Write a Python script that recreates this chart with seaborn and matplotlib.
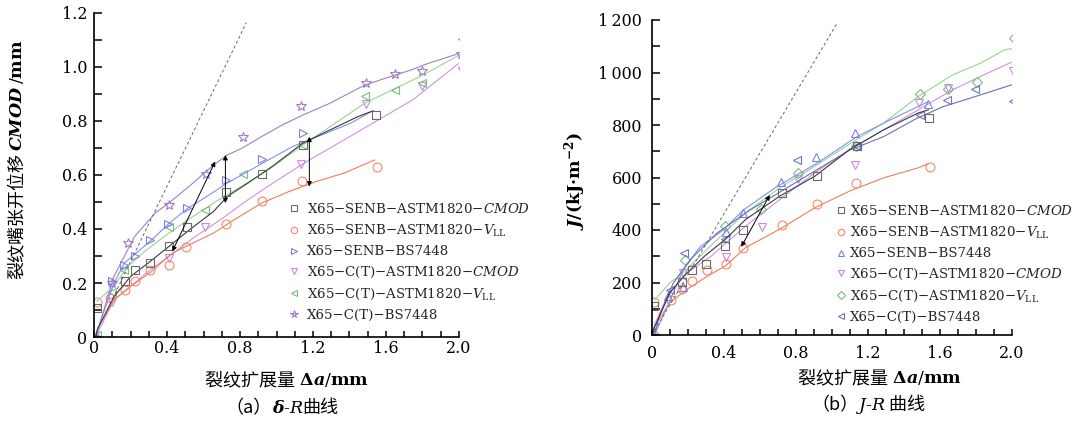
import matplotlib
matplotlib.use("Agg")
import matplotlib.pyplot as plt
import matplotlib.ticker as mticker
import seaborn as sns
from matplotlib.lines import Line2D
from matplotlib.offsetbox import TextArea, HPacker, AnnotationBbox

# ---------------- data: (a) delta-R ----------------
a_senb_cmod_lx = [0.01, 0.02, 0.11, 0.2, 0.297, 0.41, 0.523, 0.655, 0.73, 0.843, 0.975, 1.144, 1.294, 1.445, 1.53]
a_senb_cmod_ly = [0.0, 0.03, 0.15, 0.224, 0.274, 0.335, 0.397, 0.465, 0.52, 0.57, 0.631, 0.718, 0.767, 0.816, 0.838]
a_senb_cmod_mx = [0.015, 0.17, 0.226, 0.307, 0.41, 0.508, 0.724, 0.918, 1.144, 1.543]
a_senb_cmod_my = [0.107, 0.206, 0.247, 0.274, 0.338, 0.406, 0.537, 0.604, 0.711, 0.822]

a_senb_vll_lx = [0.01, 0.02, 0.11, 0.2, 0.316, 0.429, 0.542, 0.655, 0.768, 0.918, 1.069, 1.219, 1.37, 1.539]
a_senb_vll_ly = [0.0, 0.033, 0.138, 0.187, 0.243, 0.311, 0.348, 0.385, 0.434, 0.496, 0.539, 0.576, 0.607, 0.656]
a_senb_vll_mx = [0.015, 0.09, 0.17, 0.226, 0.307, 0.41, 0.504, 0.724, 0.918, 1.138, 1.548]
a_senb_vll_my = [0.128, 0.144, 0.173, 0.206, 0.247, 0.268, 0.335, 0.419, 0.502, 0.576, 0.631]

a_senb_bs_lx = [0.01, 0.02, 0.11, 0.166, 0.23, 0.316, 0.41, 0.514, 0.617, 0.73, 0.843, 0.956, 1.087, 1.18, 1.294, 1.407, 1.52]
a_senb_bs_ly = [0.0, 0.03, 0.2, 0.274, 0.31, 0.36, 0.42, 0.477, 0.52, 0.57, 0.613, 0.656, 0.705, 0.73, 0.761, 0.792, 0.835]
a_senb_bs_mx = [0.1, 0.166, 0.222, 0.307, 0.406, 0.508, 0.724, 0.918, 1.144]
a_senb_bs_my = [0.206, 0.268, 0.301, 0.358, 0.419, 0.477, 0.582, 0.658, 0.757]

a_ct_cmod_lx = [0.01, 0.02, 0.11, 0.2, 0.297, 0.41, 0.542, 0.692, 0.843, 0.993, 1.181, 1.37, 1.558, 1.746, 2.0]
a_ct_cmod_ly = [0.0, 0.015, 0.138, 0.187, 0.243, 0.298, 0.366, 0.434, 0.508, 0.576, 0.656, 0.73, 0.804, 0.878, 1.014]
a_ct_cmod_mx = [0.0, 0.1, 0.41, 0.608, 1.134, 1.49, 1.8, 2.015]
a_ct_cmod_my = [0.0, 0.128, 0.292, 0.406, 0.64, 0.862, 0.93, 0.986]

a_ct_vll_lx = [0.015, 0.109, 0.184, 0.278, 0.41, 0.542, 0.655, 0.805, 0.956, 1.144, 1.294, 1.483, 1.652, 1.802, 2.0]
a_ct_vll_ly = [0.132, 0.187, 0.261, 0.317, 0.385, 0.446, 0.496, 0.557, 0.619, 0.711, 0.779, 0.866, 0.921, 0.97, 1.044]
a_ct_vll_mx = [0.015, 0.1, 0.166, 0.41, 0.608, 0.815, 1.144, 1.486, 1.648, 1.8, 2.015]
a_ct_vll_my = [0.009, 0.166, 0.25, 0.406, 0.471, 0.604, 0.711, 0.894, 0.915, 0.942, 1.102]

a_ct_bs_lx = [0.01, 0.109, 0.222, 0.335, 0.41, 0.542, 0.655, 0.73, 0.805, 0.918, 1.031, 1.144, 1.294, 1.483, 1.595, 1.746, 1.821, 2.0]
a_ct_bs_ly = [0.0, 0.224, 0.372, 0.459, 0.496, 0.57, 0.637, 0.674, 0.697, 0.742, 0.785, 0.822, 0.866, 0.933, 0.958, 0.991, 1.011, 1.05]
a_ct_bs_mx = [0.0, 0.1, 0.184, 0.41, 0.613, 0.815, 1.134, 1.49, 1.648, 1.8, 2.01]
a_ct_bs_my = [0.0, 0.2, 0.348, 0.49, 0.604, 0.74, 0.856, 0.942, 0.974, 0.987, 1.048]

a_blunt_x = [0.0, 0.835]
a_blunt_y = [0.0, 1.165]

# ---------------- data: (b) J-R ----------------
b_senb_cmod_lx = [0.005, 0.01, 0.1, 0.178, 0.293, 0.408, 0.52, 0.71, 0.905, 1.097, 1.288, 1.48, 1.537]
b_senb_cmod_ly = [0, 23, 162, 225, 301, 365, 440, 529, 605, 706, 782, 846, 858]
b_senb_cmod_mx = [0.011, 0.165, 0.222, 0.302, 0.408, 0.507, 0.72, 0.915, 1.139, 1.541]
b_senb_cmod_my = [109, 203, 247, 272, 339, 400, 542, 605, 719, 827]

b_senb_vll_lx = [0.005, 0.01, 0.1, 0.197, 0.31, 0.408, 0.52, 0.71, 0.905, 1.097, 1.288, 1.48, 1.537]
b_senb_vll_ly = [0, 29, 124, 175, 225, 263, 333, 403, 485, 548, 599, 637, 653]
b_senb_vll_mx = [0.011, 0.107, 0.165, 0.222, 0.308, 0.413, 0.503, 0.72, 0.915, 1.135, 1.543]
b_senb_vll_my = [127, 133, 175, 206, 248, 270, 333, 419, 500, 580, 639]

b_senb_bs_lx = [0.01, 0.026, 0.1, 0.174, 0.267, 0.396, 0.507, 0.693, 0.915, 1.137, 1.322, 1.535]
b_senb_bs_ly = [0, 19, 133, 248, 336, 400, 476, 565, 654, 755, 819, 889]
b_senb_bs_mx = [0.01, 0.09, 0.172, 0.409, 0.507, 0.715, 0.909, 1.128, 1.535]
b_senb_bs_my = [5, 150, 184, 393, 464, 584, 679, 768, 880]

b_ct_cmod_lx = [0.01, 0.015, 0.1, 0.197, 0.33, 0.52, 0.71, 0.905, 1.097, 1.288, 1.48, 1.67, 1.862, 2.006]
b_ct_cmod_ly = [0, 42, 162, 238, 301, 415, 516, 618, 706, 782, 858, 934, 997, 1042]
b_ct_cmod_mx = [0.172, 0.411, 0.609, 0.813, 1.128, 1.485, 1.646, 2.004]
b_ct_cmod_my = [236, 298, 410, 593, 648, 885, 942, 1007]

b_ct_vll_lx = [0.015, 0.1, 0.161, 0.311, 0.52, 0.71, 0.905, 1.135, 1.288, 1.48, 1.67, 1.824, 1.958, 2.006]
b_ct_vll_ly = [133, 200, 229, 330, 466, 561, 643, 744, 808, 909, 991, 1035, 1086, 1092]
b_ct_vll_mx = [0.01, 0.184, 0.408, 0.603, 0.813, 1.135, 1.489, 1.646, 1.805, 2.012]
b_ct_vll_my = [5, 286, 415, 481, 618, 720, 919, 937, 962, 1130]

b_ct_bs_lx = [0.017, 0.044, 0.118, 0.211, 0.359, 0.544, 0.729, 0.915, 1.1, 1.285, 1.47, 1.618, 1.822, 2.007]
b_ct_bs_ly = [8, 83, 197, 286, 387, 476, 552, 629, 705, 755, 825, 870, 914, 955]
b_ct_bs_mx = [0.098, 0.178, 0.408, 0.806, 1.135, 1.489, 1.638, 1.795, 2.006]
b_ct_bs_my = [172, 311, 365, 665, 719, 839, 894, 937, 890]

b_blunt_x = [0.0, 1.03]
b_blunt_y = [0, 1190]

# arrows (start, end) in data units
a_arrows = [((0.72, 0.496), (0.72, 0.674)), ((1.18, 0.557), (1.18, 0.742)), ((0.429, 0.317), (0.664, 0.65))]
b_arrows = [((0.496, 336), (0.654, 533))]

legend_a = ["X65−SENB−ASTM1820−$\\mathit{CMOD}$", "X65−SENB−ASTM1820−$\\mathit{V}_{\\mathrm{LL}}$",
            "X65−SENB−BS7448", "X65−C(T)−ASTM1820−$\\mathit{CMOD}$",
            "X65−C(T)−ASTM1820−$\\mathit{V}_{\\mathrm{LL}}$", "X65−C(T)−BS7448"]
legend_b = legend_a

xticks = [0, 0.4, 0.8, 1.2, 1.6, 2.0]
xticklabels = ["0", "0.4", "0.8", "1.2", "1.6", "2.0"]
a_yticks = [0, 0.2, 0.4, 0.6, 0.8, 1.0, 1.2]
a_yticklabels = ["0", "0.2", "0.4", "0.6", "0.8", "1.0", "1.2"]
b_yticks = [0, 200, 400, 600, 800, 1000, 1200]
b_yticklabels = ["0", "200", "400", "600", "800", "1\u2009000", "1\u2009200"]

# ---------------- style ----------------
sns.set_style("ticks")
plt.rcParams.update({
    "font.family": ["DejaVu Serif"],
    "mathtext.fontset": "custom",
    "mathtext.rm": "DejaVu Serif",
    "mathtext.it": "DejaVu Serif:italic",
    "mathtext.bf": "DejaVu Serif:bold",
    "mathtext.bfit": "DejaVu Serif:italic:bold",
    "axes.linewidth": 1.2,
    "axes.edgecolor": "black",
})

W, H = 1079, 422
fig = plt.figure(figsize=(W / 100, H / 100), dpi=100)
fig.patch.set_facecolor("white")
axA = fig.add_axes([94 / W, 85 / H, 365 / W, 324 / H])
axB = fig.add_axes([652 / W, 87 / H, 360 / W, 315 / H])

C_GRAY_L, C_GRAY_M = "#3a3a3a", "#6a6a6a"
C_OR_L, C_OR_M = "#f47a58", "#f58a6c"
C_BL_L, C_BL_M = "#8a8eec", "#7c80e6"
C_VI_L, C_VI_M = "#cf92e2", "#c989dd"
C_GR_L, C_GR_M = "#96d496", "#7dba7d"
C_PU_L, C_PU_M = "#a27fc6", "#a27bc8"
C_BP_L, C_BP_M = "#6c6cbe", "#7272c4"

LW = 0.8
MEW = 0.8


def series(ax, lx, ly, mx, my, lc, mc, marker, ms):
    sns.lineplot(x=lx, y=ly, ax=ax, color=lc, lw=LW, sort=False, estimator=None)
    sns.lineplot(x=mx, y=my, ax=ax, color=mc, linestyle="none", marker=marker, markersize=ms,
                 markerfacecolor="none", markeredgecolor=mc, markeredgewidth=MEW,
                 sort=False, estimator=None)


# (a)
series(axA, a_ct_cmod_lx, a_ct_cmod_ly, a_ct_cmod_mx, a_ct_cmod_my, C_VI_L, C_VI_M, "v", 6.3)
series(axA, a_senb_vll_lx, a_senb_vll_ly, a_senb_vll_mx, a_senb_vll_my, C_OR_L, C_OR_M, "o", 6.4)
series(axA, a_ct_vll_lx, a_ct_vll_ly, a_ct_vll_mx, a_ct_vll_my, C_GR_L, C_GR_M, "<", 6.3)
series(axA, a_senb_bs_lx, a_senb_bs_ly, a_senb_bs_mx, a_senb_bs_my, C_BL_L, C_BL_M, ">", 6.3)
series(axA, a_ct_bs_lx, a_ct_bs_ly, a_ct_bs_mx, a_ct_bs_my, C_PU_L, C_PU_M, "*", 7.5)
series(axA, a_senb_cmod_lx, a_senb_cmod_ly, a_senb_cmod_mx, a_senb_cmod_my, C_GRAY_L, C_GRAY_M, "s", 5.6)
sns.lineplot(x=a_blunt_x, y=a_blunt_y, ax=axA, color="#666666", lw=0.7, dashes=(3, 2.5), sort=False, estimator=None)

# (b)
series(axB, b_ct_cmod_lx, b_ct_cmod_ly, b_ct_cmod_mx, b_ct_cmod_my, C_VI_L, C_VI_M, "v", 6.3)
series(axB, b_senb_vll_lx, b_senb_vll_ly, b_senb_vll_mx, b_senb_vll_my, C_OR_L, C_OR_M, "o", 6.4)
series(axB, b_ct_vll_lx, b_ct_vll_ly, b_ct_vll_mx, b_ct_vll_my, C_GR_L, C_GR_M, "D", 4.8)
series(axB, b_senb_bs_lx, b_senb_bs_ly, b_senb_bs_mx, b_senb_bs_my, C_BL_L, C_BL_M, "^", 6.3)
series(axB, b_ct_bs_lx, b_ct_bs_ly, b_ct_bs_mx, b_ct_bs_my, C_BP_L, C_BP_M, "<", 6.3)
series(axB, b_senb_cmod_lx, b_senb_cmod_ly, b_senb_cmod_mx, b_senb_cmod_my, C_GRAY_L, C_GRAY_M, "s", 5.6)
sns.lineplot(x=b_blunt_x, y=b_blunt_y, ax=axB, color="#666666", lw=0.7, dashes=(3, 2.5), sort=False, estimator=None)

for ax, arrows in ((axA, a_arrows), (axB, b_arrows)):
    for (p0, p1) in arrows:
        ax.annotate("", xy=p1, xytext=p0,
                    arrowprops=dict(arrowstyle="<|-|>", lw=0.7, color="black",
                                    mutation_scale=7, shrinkA=0, shrinkB=0))

# axes formatting
for ax, yt, ytl, ylim, yminor, xpad, ypad in (
        (axA, a_yticks, a_yticklabels, (0, 1.2), 0.1, 2.5, 5),
        (axB, b_yticks, b_yticklabels, (0, 1200), 100, 7, 7)):
    ax.set_xlim(0, 2.0)
    ax.set_ylim(*ylim)
    ax.xaxis.set_major_locator(mticker.FixedLocator(xticks))
    ax.xaxis.set_major_formatter(mticker.FixedFormatter(xticklabels))
    ax.xaxis.set_minor_locator(mticker.MultipleLocator(0.1))
    ax.yaxis.set_major_locator(mticker.FixedLocator(yt))
    ax.yaxis.set_major_formatter(mticker.FixedFormatter(ytl))
    ax.yaxis.set_minor_locator(mticker.MultipleLocator(yminor))
    sns.despine(ax=ax)
    ax.tick_params(axis="both", which="both", direction="in", width=1.1, colors="black",
                   labelsize=11.5)
    ax.tick_params(axis="x", which="both", length=4, pad=xpad)
    ax.tick_params(axis="y", which="both", length=5.5, pad=ypad)
    ax.set_xlabel("")
    ax.set_ylabel("")
    ax.set_facecolor("white")

# legends
markers_a = ["s", "o", ">", "v", "<", "*"]
markers_b = ["s", "o", "^", "v", "D", "<"]
cols_a = [C_GRAY_M, C_OR_M, C_BL_M, C_VI_M, C_GR_M, C_PU_M]
cols_b = [C_GRAY_M, C_OR_M, C_BL_M, C_VI_M, C_GR_M, C_BP_M]


def make_legend(ax, markers, cols, labels, x0, ytop, hl, htp):
    hs = []
    for m, c in zip(markers, cols):
        ms = 4.6 if m != "D" else 3.6
        if m == "*":
            ms = 5.5
        hs.append(Line2D([], [], ls="none", marker=m, ms=ms, mfc="none", mec=c, mew=0.8))
    ax.legend(hs, labels, loc="upper left", bbox_to_anchor=(x0 / W, 1 - ytop / H),
              bbox_transform=fig.transFigure, frameon=False, borderpad=0, borderaxespad=0,
              handlelength=hl, handletextpad=htp, labelspacing=0.5,
              prop={"family": "DejaVu Serif", "size": 9.6})


make_legend(axA, markers_a, cols_a, legend_a, 287, 202, 1.0, 0.52)
make_legend(axB, markers_b, cols_b, legend_b, 836, 204, 0.7, 0.32)

# text labels
CJK = {"family": "Noto Sans CJK SC", "size": 13, "color": "black"}
SER = {"family": "DejaVu Serif", "size": 12.5, "color": "black"}


def hlabel(pieces, xc, yc):
    areas = [TextArea(s, textprops=p) for s, p in pieces]
    box = HPacker(children=areas, align="baseline", pad=0, sep=0)
    ab = AnnotationBbox(box, (xc, H - yc), xycoords="figure pixels", frameon=False,
                        box_alignment=(0.5, 0.5), pad=0)
    fig.add_artist(ab)


def vlabel(ax, pieces, xc, ybottom, gap=3):
    prev = None
    for s, p in pieces:
        if prev is None:
            prev = ax.annotate(s, xy=(xc, H - ybottom), xycoords="figure pixels",
                               rotation=90, ha="center", va="bottom", annotation_clip=False, **p)
        else:
            prev = ax.annotate(s, xy=(0.5, 1), xycoords=prev, xytext=(0, gap),
                               textcoords="offset pixels", rotation=90, ha="center",
                               va="bottom", annotation_clip=False, **p)


hlabel([("裂纹扩展量 ", CJK), ("\u0394", dict(SER, weight="bold")),
        ("$\\mathbfit{a}$/$\\mathbf{mm}$", SER)], 287, 380)
hlabel([("裂纹扩展量 ", CJK), ("\u0394", dict(SER, weight="bold")),
        ("$\\mathbfit{a}$/$\\mathbf{mm}$", SER)], 880, 378)
hlabel([("（a）", CJK), ("\u03b4", dict(SER, weight="bold", style="italic")),
        ("-", SER), ("R", dict(SER, style="italic")), ("曲线", CJK)], 282, 408)
hlabel([("（b）", CJK), ("J", dict(SER, style="italic")),
        ("-", SER), ("R", dict(SER, style="italic")), (" 曲线", CJK)], 868, 405)

vlabel(axA, [("裂纹嘴张开位移", CJK), ("$\\mathbfit{CMOD}$", SER), ("$/\\mathbf{mm}$", SER)], 17.5, 279, gap=2)
vlabel(axB, [("$\\mathbfit{J}$/(kJ·m$^{\\mathbf{-2}}$)", dict(SER, weight="bold"))], 575, 230)

fig.savefig("out.png", dpi=100, facecolor="white")
